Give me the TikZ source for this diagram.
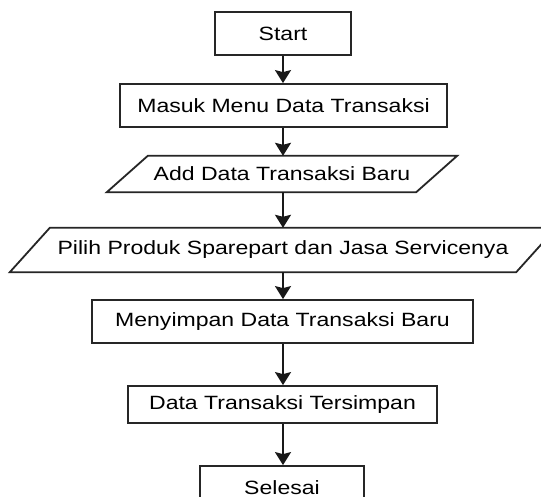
\documentclass[tikz,border=0pt]{standalone}
\usepackage{fontspec}
\setmainfont{Liberation Sans}[FakeStretch=1.2]
\usetikzlibrary{arrows.meta,calc}
\tikzset{
  x=1pt, y=1pt,
  box/.style={draw=black!85, line width=1.8pt, fill=white, inner sep=0pt,
    font=\fontsize{19.2}{23}\selectfont},
  iobox/.style={draw=none, inner sep=0pt, font=\fontsize{19.2}{23}\selectfont},
  outline/.style={draw=black!85, line width=1.8pt},
  flow/.style={line width=1.8pt, draw=black!90,
    -{Stealth[width=16pt,length=13pt,inset=2pt]}}
}
\begin{document}
\begin{tikzpicture}
\useasboundingbox (0,0) rectangle (541,-497);
\clip (0,0) rectangle (541,-497);
\fill[white] (0,0) rectangle (541,-497);

\node[box, minimum width=136pt, minimum height=43pt] (start) at (283,-33.5) {Start};
\node[box, minimum width=327pt, minimum height=43pt] (masuk) at (283.5,-105.5) {Masuk Menu Data Transaksi};

\node[iobox, minimum width=350pt, minimum height=36pt] (add) at (282,-174) {Add Data Transaksi Baru};
\draw[outline] ([xshift=41pt]add.north west) -- (add.north east)
  -- ([xshift=-41pt]add.south east) -- (add.south west) -- cycle;

\node[iobox, minimum width=546pt, minimum height=44pt] (pilih) at (283,-250) {Pilih Produk Sparepart dan Jasa Servicenya};
\draw[outline] ([xshift=40pt]pilih.north west) -- (pilih.north east)
  -- ([xshift=-40pt]pilih.south east) -- (pilih.south west) -- cycle;

\node[box, minimum width=381pt, minimum height=43pt] (simpan) at (282.5,-321.5) {Menyimpan Data Transaksi Baru};
\node[box, minimum width=309pt, minimum height=37pt] (tersimpan) at (282.5,-404.5) {Data Transaksi Tersimpan};
\node[box, minimum width=164pt, minimum height=43pt] (selesai) at (282,-487.5) {Selesai};

\draw[flow] (start.south -| 283,0) -- (masuk.north -| 283,0);
\draw[flow] (masuk.south -| 283,0) -- (add.north -| 283,0);
\draw[flow] (add.south -| 283,0) -- (pilih.north -| 283,0);
\draw[flow] (pilih.south -| 283,0) -- (simpan.north -| 283,0);
\draw[flow] (simpan.south -| 283,0) -- (tersimpan.north -| 283,0);
\draw[flow] (tersimpan.south -| 283,0) -- (selesai.north -| 283,0);
\end{tikzpicture}
\end{document}
